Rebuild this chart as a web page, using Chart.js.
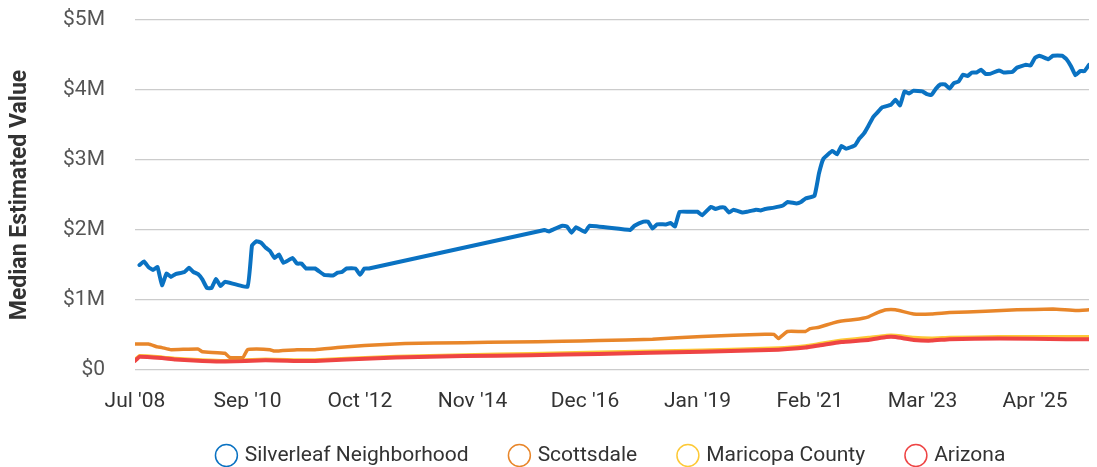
<!DOCTYPE html>
<html>
<head>
<meta charset="utf-8">
<script src="https://cdn.jsdelivr.net/npm/chart.js@4"></script>
<style>
  html, body { margin: 0; padding: 0; background: #fff; }
  #wrap { width: 1097px; height: 467px; position: relative; }
</style>
</head>
<body>
<div id="wrap"><canvas id="c"></canvas></div>
<script>
// Tick labels for the x axis (month index -> label)
const xTickIndex = [0, 25, 50, 75, 100, 125, 150, 175, 200];
const xTickLabels = ["Jul '08", "Sep '10", "Oct '12", "Nov '14", "Dec '16", "Jan '19", "Feb '21", "Mar '23", "Apr '25"];

const seriesNames = ["Silverleaf Neighborhood", "Scottsdale", "Maricopa County", "Arizona"];

// Silverleaf Neighborhood (month index, value in $M)
const silverleafX = [1,2,3,4,5,6,7,8,9,11,12,13,14,15,16,17,18,19,20,25,26,27,28,29,30,31,32,33,35,36,37,38,40,42,44,45,46,47,49,50,51,52,
  91,92,93,95,96,97,98,100,101,110,111,113,114,115,116,118,119,120,121,123,125,126,128,129,130,131,132,133,135,136,138,139,140,142,144,145,147,148,
  149,151,152,153,155,156,157,158,160,161,162,163,164,165,166,168,169,170,171,172,173,175,176,177,178,179,180,181,182,183,184,185,186,187,188,189,190,192,193,195,196,198,199,200,201,203,204,206,207,208,209,210,211,212];
const silverleafY = [1.50,1.55,1.47,1.43,1.47,1.21,1.38,1.33,1.37,1.40,1.46,1.40,1.37,1.29,1.17,1.17,1.30,1.20,1.26,1.19,1.78,1.84,1.82,1.75,1.70,1.60,1.65,1.53,1.60,1.52,1.52,1.45,1.45,1.36,1.35,1.39,1.40,1.45,1.45,1.36,1.45,1.45,
  2.00,1.98,2.01,2.06,2.05,1.96,2.04,1.97,2.06,2.00,2.06,2.12,2.12,2.02,2.08,2.08,2.10,2.05,2.26,2.26,2.26,2.21,2.33,2.30,2.32,2.32,2.25,2.29,2.25,2.26,2.29,2.28,2.30,2.32,2.35,2.40,2.38,2.40,
  2.45,2.49,2.81,3.02,3.13,3.08,3.20,3.16,3.21,3.31,3.38,3.49,3.61,3.68,3.75,3.79,3.86,3.78,3.98,3.95,3.99,3.98,3.94,3.93,4.02,4.08,4.08,4.02,4.10,4.12,4.22,4.20,4.25,4.25,4.29,4.23,4.23,4.28,4.25,4.26,4.32,4.36,4.35,4.46,4.49,4.44,4.49,4.49,4.44,4.34,4.21,4.27,4.27,4.36];

// Scottsdale
const scottsdaleX = [0,3,5,6,8,14,15,20,21,24,25,27,30,31,36,40,45,51,60,73,84,95,103,115,126,140,142,143,145,149,150,152,155,157,160,163,165,167,169,173,177,181,189,196,204,209,212];
const scottsdaleY = [0.37,0.37,0.33,0.32,0.29,0.30,0.26,0.24,0.18,0.18,0.29,0.30,0.29,0.27,0.29,0.29,0.32,0.35,0.38,0.39,0.40,0.41,0.42,0.44,0.48,0.51,0.51,0.45,0.55,0.55,0.59,0.61,0.67,0.70,0.72,0.76,0.82,0.86,0.86,0.80,0.80,0.82,0.84,0.86,0.87,0.85,0.86];

// Maricopa County
const maricopaX = [0,1,6,9,15,20,29,36,40,47,58,73,88,103,126,143,149,152,157,163,167,169,173,177,181,192,207,212];
const maricopaY = [0.14,0.20,0.18,0.16,0.14,0.13,0.15,0.14,0.14,0.16,0.19,0.21,0.23,0.25,0.28,0.31,0.34,0.37,0.42,0.46,0.49,0.49,0.46,0.45,0.46,0.47,0.47,0.47];

// Arizona
const arizonaX = [0,1,6,9,15,20,29,36,40,47,58,73,88,103,126,143,149,152,157,163,167,169,173,177,181,192,207,212];
const arizonaY = [0.13,0.19,0.17,0.15,0.13,0.12,0.14,0.13,0.13,0.15,0.18,0.20,0.21,0.23,0.26,0.29,0.32,0.35,0.40,0.43,0.47,0.47,0.43,0.42,0.44,0.45,0.44,0.44];

const colors = ["#0a72c2", "#e8862a", "#fdc936", "#ee4444"];
const widths = [4, 3.5, 4, 4];
const orders = [0, 1, 3, 2];

function pts(xs, ys) { return xs.map((x, i) => ({ x: x, y: ys[i] * 1e6 })); }
const allX = [silverleafX, scottsdaleX, maricopaX, arizonaX];
const allY = [silverleafY, scottsdaleY, maricopaY, arizonaY];

const datasets = seriesNames.map((name, i) => ({
  label: name,
  data: pts(allX[i], allY[i]),
  borderColor: colors[i],
  backgroundColor: colors[i],
  borderWidth: widths[i],
  pointRadius: 0,
  pointHoverRadius: 0,
  pointBackgroundColor: "#ffffff",
  pointBorderColor: colors[i],
  pointBorderWidth: 1.5,
  tension: 0.1,
  order: orders[i],
  borderJoinStyle: "round",
  borderCapStyle: "round"
}));

Chart.defaults.font.family = "Roboto, 'Noto Sans', sans-serif";

const LEGEND_H = 56;
const LEGEND_TOP = 402;
const LEGEND_BOTTOM = 467;
const legendFix = {
  id: "legendFix",
  afterInit(chart) {
    const lg = chart.legend;
    if (!lg) return;
    const f = lg.fit;
    lg.fit = function () { f.call(this); this.height = LEGEND_H; };
  },
  afterLayout(chart) {
    const lg = chart.legend;
    if (!lg) return;
    lg.top = LEGEND_TOP;
    lg.bottom = LEGEND_BOTTOM;
    lg.height = LEGEND_BOTTOM - LEGEND_TOP;
  }
};

new Chart(document.getElementById("c"), {
  type: "line",
  data: { datasets: datasets },
  plugins: [legendFix],
  options: {
    responsive: true,
    maintainAspectRatio: false,
    animation: false,
    layout: { padding: { top: 0, right: 8, left: 0, bottom: 2 } },
    plugins: {
      legend: {
        position: "bottom",
        fullSize: false,
        labels: {
          usePointStyle: true,
          pointStyle: "circle",
          boxHeight: 15.5,
          boxWidth: 15.5,
          padding: 43,
          color: "#333",
          font: { size: 21 },
          sort: (a, b) => a.datasetIndex - b.datasetIndex
        }
      },
      tooltip: { enabled: false }
    },
    scales: {
      x: {
        type: "linear",
        min: 0,
        max: 212,
        grid: { display: false, drawTicks: false },
        border: { display: false },
        afterFit: (s) => { s.height = 39; },
        afterBuildTicks: (s) => { s.ticks = xTickIndex.map(v => ({ value: v })); },
        ticks: {
          autoSkip: false,
          maxRotation: 0,
          padding: 19,
          color: "#333",
          font: { size: 21 },
          callback: (v) => { const k = xTickIndex.indexOf(v); return k >= 0 ? xTickLabels[k] : ""; }
        }
      },
      y: {
        min: 0,
        max: 5e6,
        afterFit: (s) => { s.width = 135; s.paddingTop = 20; s.paddingBottom = 0; },
        grid: { color: "#cccccc", lineWidth: 1.2, drawTicks: false },
        border: { display: false },
        ticks: {
          stepSize: 1e6,
          padding: 30,
          color: "#555",
          font: { size: 21 },
          callback: (v) => v === 0 ? "$0" : "$" + (v / 1e6) + "M"
        },
        title: {
          display: true,
          text: "Median Estimated Value",
          color: "#333",
          font: { size: 23, weight: "bold" },
          padding: { top: 6, bottom: 0 }
        }
      }
    }
  }
});
</script>
</body>
</html>
